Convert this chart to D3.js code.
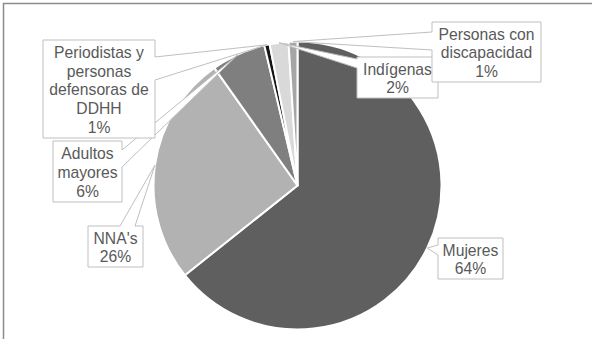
<!DOCTYPE html>
<html>
<head>
<meta charset="utf-8">
<script src="https://cdn.jsdelivr.net/npm/d3@7"></script>
<style>
  html, body { margin: 0; padding: 0; background: #fff; }
  svg { display: block; }
</style>
</head>
<body>
<svg id="chart" width="592" height="339"></svg>
<script>
// ---- data ----
const categories = ["Mujeres", "NNA's", "Adultos mayores", "Periodistas y personas defensoras de DDHH", "Indígenas", "Personas con discapacidad"];
const values = [64.3, 25.9, 6.1, 0.6, 2.1, 1.0];
const percentLabels = ["64%", "26%", "6%", "1%", "2%", "1%"];
const colors = ["#5f5f5f", "#b2b2b2", "#7f7f7f", "#141414", "#d9d9d9", "#a6a6a6"];

// ---- layout (callout boxes) ----
const boxes = [
  {x: 438, y: 238, w: 65, h: 41, side: "left", b1: 245, b2: 255},
  {x: 88, y: 226, w: 55, h: 41, side: "top", b1: 120, b2: 135},
  {x: 53, y: 141, w: 69, h: 61, side: "right", b1: 150, b2: 167},
  {x: 43, y: 40, w: 112, h: 98, side: "right", b1: 57, b2: 80},
  {x: 357, y: 57, w: 81, h: 41, side: "left", b1: 59, b2: 68},
  {x: 432, y: 22, w: 109, h: 60, side: "left", b1: 32, b2: 50}
];

const svg = d3.select("#chart");
const W = 592, H = 339;
const cx = 297.5, cy = 185.5, R = 144;
const fontSize = 15.7, lineH = 18.6;
const textColor = "#595959", boxStroke = "#bfbfbf";

// frame
svg.append("rect")
  .attr("x", 3.5).attr("y", 3.5).attr("width", 700).attr("height", 500)
  .attr("fill", "none").attr("stroke", "#8c8c8c").attr("stroke-width", 1.5);

const pie = d3.pie().sort(null).value(d => d)(values);
const arc = d3.arc().innerRadius(0).outerRadius(R);
const tipArc = d3.arc().innerRadius(R).outerRadius(R);

const g = svg.append("g").attr("transform", `translate(${cx},${cy})`);
g.selectAll("path.slice").data(pie).join("path")
  .attr("class", "slice")
  .attr("d", arc)
  .attr("fill", (d, i) => colors[i])
  .attr("stroke", "#fff")
  .attr("stroke-width", 2)
  .attr("stroke-linejoin", "round");

function calloutPath(b, t) {
  const x0 = b.x, y0 = b.y, x1 = b.x + b.w, y1 = b.y + b.h;
  let p;
  if (b.side === "left") {
    p = [[x0, y0], [x1, y0], [x1, y1], [x0, y1], [x0, b.b2], t, [x0, b.b1]];
  } else if (b.side === "right") {
    p = [[x0, y0], [x1, y0], [x1, b.b1], t, [x1, b.b2], [x1, y1], [x0, y1]];
  } else {
    p = [[x0, y0], [b.b1, y0], t, [b.b2, y0], [x1, y0], [x1, y1], [x0, y1]];
  }
  return "M" + p.map(q => q.join(",")).join("L") + "Z";
}

const measure = svg.append("text")
  .attr("font-family", "Liberation Sans, Arial, sans-serif")
  .attr("font-size", fontSize).attr("visibility", "hidden");
function wrap(str, maxW) {
  const words = str.split(" ");
  const lines = [];
  let cur = "";
  words.forEach(w => {
    const test = cur ? cur + " " + w : w;
    measure.text(test);
    if (cur && measure.node().getComputedTextLength() > maxW) {
      lines.push(cur); cur = w;
    } else cur = test;
  });
  if (cur) lines.push(cur);
  return lines;
}

const labels = svg.append("g");
pie.forEach((d, i) => {
  const b = boxes[i];
  const c = tipArc.centroid(d);
  const tip = [cx + c[0], cy + c[1]];
  labels.append("path")
    .attr("d", calloutPath(b, tip))
    .attr("fill", "#fff")
    .attr("stroke", boxStroke)
    .attr("stroke-width", 1);
  const lines = wrap(categories[i], b.w - 8).concat([percentLabels[i]]);
  const midY = b.y + b.h / 2 + 1;
  const firstY = midY - (lines.length - 1) * lineH / 2;
  const t = labels.append("text")
    .attr("font-family", "Liberation Sans, Arial, sans-serif")
    .attr("font-size", fontSize)
    .attr("fill", textColor)
    .attr("text-anchor", "middle");
  lines.forEach((ln, k) => {
    t.append("tspan")
      .attr("x", b.x + b.w / 2)
      .attr("y", firstY + k * lineH + fontSize * 0.35)
      .text(ln);
  });
});
measure.remove();
</script>
</body>
</html>
